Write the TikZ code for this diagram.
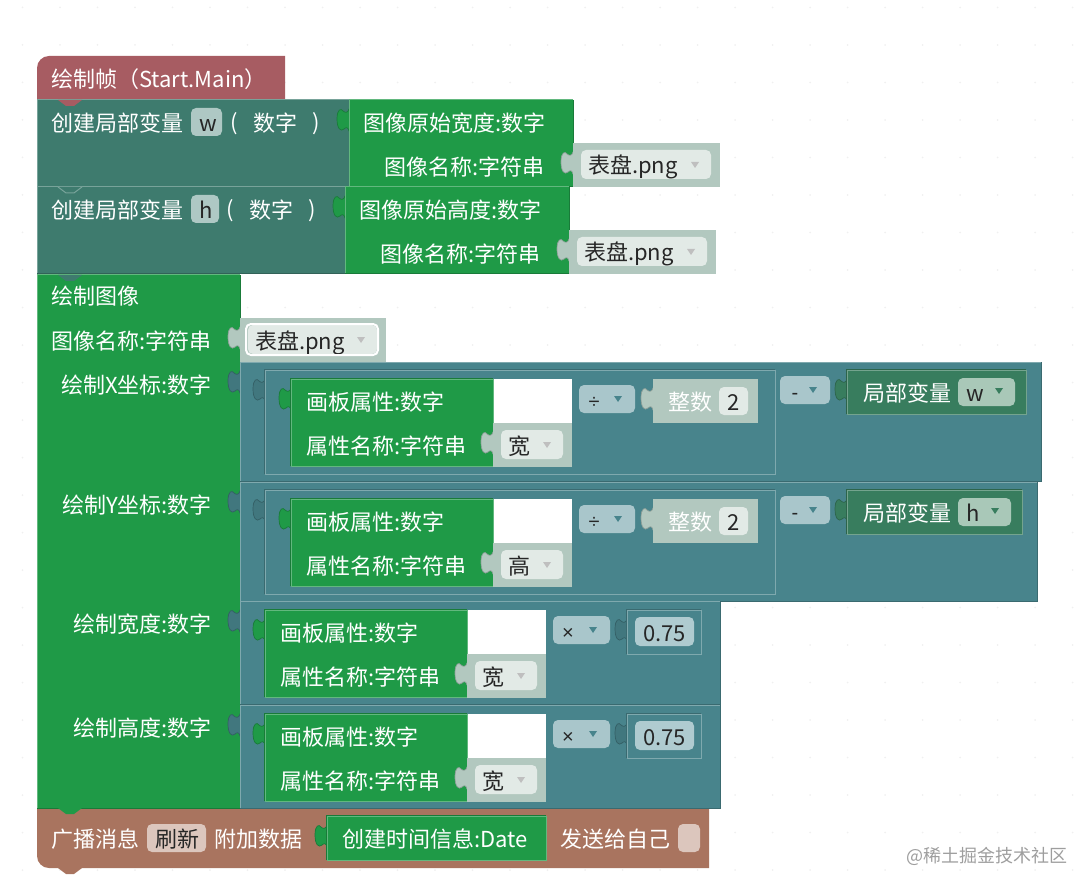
\documentclass[tikz,border=0pt]{standalone}
\usepackage{fontspec}
\setmainfont{Noto Sans CJK SC}
\newfontfamily\opfont{Liberation Sans}
\newlength{\du}
\setlength{\du}{1pt}
\definecolor{headcolor}{HTML}{A75C62}
\definecolor{varcolor}{HTML}{3E7B6E}
\definecolor{greencolor}{HTML}{1F9A47}
\definecolor{tagcolor}{HTML}{B2C8BF}
\definecolor{fieldcolor}{HTML}{E2EAE6}
\definecolor{tealcolor}{HTML}{48848C}
\definecolor{dropcolor}{HTML}{A9C6CB}
\definecolor{localcolor}{HTML}{387D5E}
\definecolor{localfield}{HTML}{A9C8B8}
\definecolor{varfield}{HTML}{AEC8C4}
\definecolor{numfield}{HTML}{AFCBD0}
\definecolor{msgcolor}{HTML}{A9745F}
\definecolor{msgfield}{HTML}{DCC6BD}
\tikzset{
  blocktext/.style={anchor=west,inner sep=0pt,text=white,font=\fontsize{22}{26}\selectfont,text height=18\du,text depth=0pt},
  blockright/.style={blocktext,anchor=east},
  fieldtext/.style={blocktext,text=black!85},
  optext/.style={fieldtext,anchor=center,font=\opfont\fontsize{20}{24}\selectfont},
  fieldbox/.style={rounded corners=5\du},
  griddot/.style={fill=black!6}
}
% block with bevel edges
\newcommand{\block}[5]{
\fill[#5] (#1\du,#2\du) rectangle (#3\du,#4\du);
\draw[#5!70!white,line width=1\du] (#1\du,#4\du)--(#1\du,#2\du)--(#3\du,#2\du);
\draw[#5!80!black,line width=1\du] (#3\du,#2\du)--(#3\du,#4\du)--(#1\du,#4\du);
}
% block sitting in a socket
\newcommand{\insetblock}[5]{
\draw[#5!80!black,line width=1\du] (#1\du-1\du,#4\du)--(#1\du-1\du,#2\du-1\du)--(#3\du,#2\du-1\du);
\fill[#5] (#1\du,#2\du) rectangle (#3\du,#4\du);
\draw[#5!70!white,line width=1\du] (#1\du,#2\du) rectangle (#3\du,#4\du);
}
% puzzle tab on the left edge of a block
\newcommand{\tabat}[3]{
\begin{scope}[shift={(#1\du,#2\du)}]
\filldraw[fill=#3,draw=#3!80!black,line width=.7\du] (1\du,9\du)--(0\du,9\du) .. controls (-1\du,13\du) and (-4\du,13\du) .. (-6\du,11\du) .. controls (-8\du,8\du) and (-12\du,9\du) .. (-12\du,19\du) .. controls (-12\du,29\du) and (-8\du,32\du) .. (-5\du,29\du) .. controls (-3\du,27\du) and (-1\du,27\du) .. (0\du,31\du) -- (1\du,31\du) -- cycle;
\end{scope}
}
\newcommand{\notch}[2]{
\fill[#2] (58\du,#1\du)--(66\du,#1\du+6\du)--(74\du,#1\du+6\du)--(82\du,#1\du)--cycle;
}
\newcommand{\droptri}[3]{
\begin{scope}[shift={({(#1)*\du},{(#2)*\du})}]
\fill[#3] (-4\du,-3\du)--(4\du,-3\du)--(0\du,3\du)--cycle;
\end{scope}
}
% string value with a drop down field
\newcommand{\valuetag}[5]{
\begin{scope}[shift={(#2\du,#3\du)}]
\tabat{0}{0}{tagcolor}
\fill[tagcolor] (0\du,0\du) rectangle (#4\du,44\du);
\fill[fieldcolor,fieldbox] (8\du,7\du) rectangle (#4\du-9\du,36\du);
\node[fieldtext] (#1) at (15\du,22\du){#5};
\droptri{#4-25}{22}{black!25}
\end{scope}
}
\newcommand{\dropdown}[5]{
\begin{scope}[shift={(#2\du,#3\du)}]
\fill[dropcolor,fieldbox] (0\du,0\du) rectangle (#4\du,28\du);
\node[optext] (#1) at (15\du,14\du){#5};
\droptri{#4-17}{14}{tealcolor}
\end{scope}
}
% green property block with the white gap and its value
\newcommand{\propblock}[4]{
\begin{scope}[shift={(#2\du,#3\du)}]
\fill[white] (202\du,0\du) rectangle (281\du,44\du);
\tabat{0}{0}{greencolor}
\insetblock{0}{0}{202}{87}{greencolor}
\node[blocktext] (#1a) at (15\du,22\du){画板属性:数字};
\node[blocktext] (#1b) at (15\du,66\du){属性名称:字符串};
\valuetag{#1c}{202}{44}{79}{#4}
\end{scope}
}
% local variable row at the top
\newcommand{\varrow}[7]{
\begin{scope}[shift={(0\du,#2\du)}]
\block{37}{0}{#3}{87}{varcolor}
\node[blocktext] (#1a) at (51\du,23\du){创建局部变量};
\fill[varfield,fieldbox] (191\du,8\du) rectangle (#6\du,36\du);
\node[fieldtext] (#1b) at (199\du,23\du){#5};
\begin{scope}[shift={(#4\du,0\du)}]
\node[blocktext] (#1c) at (230\du,22\du){(};
\node[blocktext] (#1d) at (253\du,23\du){数字};
\node[blocktext] (#1e) at (312\du,22\du){)};
\tabat{349}{0}{greencolor}
\block{349}{0}{573}{87}{greencolor}
\node[blocktext] (#1f) at (363\du,23\du){#7:数字};
\node[blockright] (#1g) at (545\du,67\du){图像名称:字符串};
\valuetag{#1h}{573}{43}{147}{表盘.png}
\end{scope}
\end{scope}
}
% coordinate row with two nested sockets
\newcommand{\coordrow}[6]{
\begin{scope}[shift={(0\du,#2\du)}]
\tabat{240}{0}{tealcolor!90!black}
\block{240}{0}{#3}{119}{tealcolor}
\tabat{265}{8}{tealcolor!90!black}
\insetblock{265}{8}{775}{112}{tealcolor}
\propblock{#1p}{291}{17}{#4}
\dropdown{#1q}{579}{23}{56}{÷}
\tabat{653}{17}{tagcolor}
\fill[tagcolor] (653\du,17\du) rectangle (758\du,61\du);
\node[blocktext] (#1r) at (668\du,39\du){整数};
\fill[fieldcolor,fieldbox] (719\du,25\du) rectangle (748\du,53\du);
\node[fieldtext] (#1s) at (727\du,39\du){2};
\dropdown{#1t}{780}{14}{50}{-}
\tabat{847}{8}{localcolor}
\insetblock{847}{8}{#6}{52}{localcolor}
\node[blocktext] (#1u) at (863\du,30\du){局部变量};
\fill[localfield,fieldbox] (958\du,16\du) rectangle (#6\du-11\du,44\du);
\node[fieldtext] (#1v) at (966\du,30\du){#5};
\droptri{#6-27}{29}{localcolor}
\end{scope}
}
% size row with one socket
\newcommand{\sizerow}[2]{
\begin{scope}[shift={(0\du,#2\du)}]
\tabat{240}{0}{tealcolor!90!black}
\block{240}{0}{720}{103}{tealcolor}
\propblock{#1p}{265}{9}{宽}
\dropdown{#1q}{553}{15}{57}{×}
\tabat{627}{9}{tealcolor!90!black}
\insetblock{627}{9}{701}{53}{tealcolor}
\fill[numfield,fieldbox] (635\du,16\du) rectangle (694\du,45\du);
\node[fieldtext] (#1r) at (643\du,31\du){0.75};
\end{scope}
}
\begin{document}
\begin{tikzpicture}
\pgftransformyscale{-1.000000}
\useasboundingbox (0\du,0\du) rectangle (1091\du,890\du);
% dots of the work area
\foreach \gx in {22.5,60,...,1085}
  \foreach \gy in {7.5,45,...,885}
    \fill[griddot] (\gx\du,\gy\du) circle (1\du);
% start block
\fill[headcolor] (37\du,100\du) [rounded corners=12\du] -- (37\du,56\du) [sharp corners] -- (285\du,56\du) -- (285\du,100\du) -- cycle;
\node[blocktext] (title) at (51\du,79\du){绘制帧（Start.Main）};
% local variables
\varrow{varw}{100}{349}{0}{w}{222}{图像原始宽度}
\varrow{varh}{187}{345}{-4}{h}{219}{图像原始高度}
\notch{100}{headcolor}
\notch{187}{varcolor}
\draw[varcolor!70!white,line width=1\du] (58\du,187\du)--(66\du,193\du)--(74\du,193\du)--(82\du,187\du);
% draw image block
\block{37}{275}{240}{808}{greencolor}
\notch{275}{varcolor}
\node[blocktext] (drawtitle) at (51\du,296\du){绘制图像};
\node[blockright] (drawname) at (212\du,340\du){图像名称:字符串};
\node[blockright] (drawx) at (212\du,384\du){绘制X坐标:数字};
\node[blockright] (drawy) at (212\du,504\du){绘制Y坐标:数字};
\node[blockright] (draww) at (212\du,623\du){绘制宽度:数字};
\node[blockright] (drawh) at (212\du,727\du){绘制高度:数字};
\valuetag{drawfile}{240}{318}{146}{表盘.png}
\draw[white,line width=2\du,fieldbox] (246\du,324\du) rectangle (378\du,355\du);
% value rows
\coordrow{rowx}{362}{1041}{宽}{w}{1026}
\coordrow{rowy}{482}{1037}{高}{h}{1022}
\sizerow{rowb}{601}
\sizerow{rowc}{705}
% message block
\fill[msgcolor] (37\du,809\du) -- (709\du,809\du) -- (709\du,868\du) [rounded corners=12\du] -- (37\du,868\du) [sharp corners] -- (37\du,809\du) -- cycle;
\notch{868}{msgcolor}
\notch{808}{greencolor}
\node[blocktext] (msga) at (51\du,838\du){广播消息};
\fill[msgfield,fieldbox] (147\du,824\du) rectangle (206\du,852\du);
\node[fieldtext] (msgb) at (155\du,838\du){刷新};
\node[blocktext] (msgc) at (214\du,838\du){附加数据};
\tabat{327}{816}{greencolor}
\insetblock{327}{816}{546}{860}{greencolor}
\node[blocktext] (msgd) at (342\du,838\du){创建时间信息:Date};
\node[blocktext] (msge) at (560\du,838\du){发送给自己};
\fill[msgfield,fieldbox] (678\du,824\du) rectangle (700\du,852\du);
% watermark
\node[blocktext,text=black!38,font=\fontsize{18}{22}\selectfont,text height=13\du] (mark) at (906\du,856\du){@稀土掘金技术社区};
\end{tikzpicture}
\end{document}
